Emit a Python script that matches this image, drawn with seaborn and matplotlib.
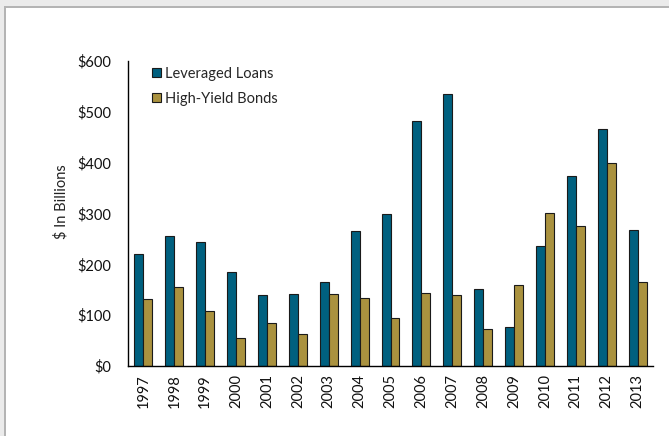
import matplotlib
matplotlib.use("Agg")
import matplotlib.pyplot as plt
from matplotlib.patches import Rectangle
from matplotlib.ticker import FixedLocator, FuncFormatter
import seaborn as sns
import pandas as pd

years = [str(y) for y in range(1997, 2014)]
leveraged_loans = [220, 256, 244, 185, 140, 142, 165, 266, 299, 482, 535, 152, 77, 236, 374, 467, 268]
high_yield_bonds = [132, 155, 108, 55, 85, 63, 142, 134, 94, 144, 140, 73, 159, 301, 276, 400, 165]
series_names = ["Leveraged Loans", "High-Yield Bonds"]
palette = ["#00607F", "#AA923F"]

df = pd.DataFrame({
    "Year": years * 2,
    "Value": leveraged_loans + high_yield_bonds,
    "Series": [series_names[0]] * len(years) + [series_names[1]] * len(years),
})

sns.set_style("white")
plt.rcParams["font.family"] = ["Lato", "DejaVu Sans"]

fig = plt.figure(figsize=(6.69, 4.36), dpi=100)
W, H = 669, 436

# page frame around the chart
fig.patches.append(Rectangle((0, 0), 1, 1, transform=fig.transFigure,
                             facecolor="#EBEBEB", edgecolor="none", zorder=-3))
fig.patches.append(Rectangle((4 / W, 0), 1, (H - 6) / H, transform=fig.transFigure,
                             facecolor="#B4B4B4", edgecolor="none", zorder=-2))
fig.patches.append(Rectangle((6 / W, 0), 1, (H - 8) / H, transform=fig.transFigure,
                             facecolor="white", edgecolor="none", zorder=-1))

ax = fig.add_axes([128 / W, (H - 366) / H, (653 - 128) / W, (366 - 61) / H])
ax.set_facecolor("none")

sns.barplot(data=df, x="Year", y="Value", hue="Series", palette=palette,
            width=0.58, dodge=True, edgecolor="#1a1a1a", linewidth=0.8,
            saturation=1, ax=ax)

ax.set_ylim(0, 600)
ax.set_xlim(-0.5, len(years) - 0.5)
ax.yaxis.set_major_locator(FixedLocator(range(0, 601, 100)))
ax.yaxis.set_major_formatter(FuncFormatter(lambda v, _: f"${int(v)}"))

ax.set_xticks(range(len(years)))
ax.set_xticklabels(years, rotation=90)
ax.xaxis.set_minor_locator(FixedLocator([i - 0.5 for i in range(len(years) + 1)]))
ax.tick_params(axis="x", which="major", length=0, pad=6, labelsize=10.5, labelcolor="#111111")
ax.tick_params(axis="x", which="minor", length=5, width=0.8, color="#444444", direction="out")
ax.tick_params(axis="y", which="major", length=4, width=0.8, color="#444444",
               direction="out", labelsize=10.5, pad=8, labelcolor="#111111")

for side in ["top", "right"]:
    ax.spines[side].set_visible(False)
for side in ["left", "bottom"]:
    ax.spines[side].set_color("black")
    ax.spines[side].set_linewidth(1.0)

ax.set_xlabel("")
ax.set_ylabel("$ In Billions", fontsize=10.5, color="#222222")
ax.yaxis.set_label_coords(-0.114, 0.54)

leg = ax.legend(loc="upper left", bbox_to_anchor=(0.035, 1.0), frameon=False,
                fontsize=10.5, handlelength=0.6, handleheight=0.6,
                handletextpad=0.3, labelspacing=0.75, borderaxespad=0.0)
for h in leg.legend_handles:
    h.set_edgecolor("#1a1a1a")
    h.set_linewidth(0.8)

fig.savefig("out.png", dpi=100)
